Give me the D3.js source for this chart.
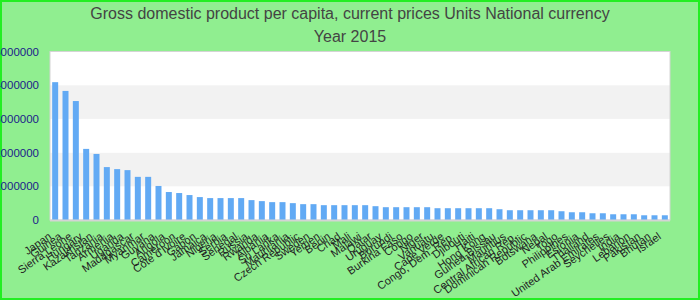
<!DOCTYPE html>
<html>
<head>
<meta charset="utf-8">
<script src="https://cdn.jsdelivr.net/npm/d3@7"></script>
<style>
  html, body { margin: 0; padding: 0; }
  body { width: 700px; height: 300px; overflow: hidden; }
  svg { display: block; font-family: Arial, "Liberation Sans", sans-serif; }
</style>
</head>
<body>
<svg id="chart" width="700" height="300"></svg>
<script>
const titleLines = ["Gross domestic product per capita, current prices Units National currency", "Year 2015"];

const countries = [
  "Japan", "Guinea", "Sierra Leone", "Hungary", "Kazakhstan", "Tanzania", "Armenia", "Uganda",
  "Madagascar", "Myanmar", "Guyana", "Angola", "Cameroon", "Cote d'Ivoire", "Gabon", "Jamaica",
  "Nigeria", "Serbia", "Senegal", "Russia", "Rwanda", "Albania", "Sri Lanka", "Mauritania",
  "Czech Republic", "Sweden", "Yemen", "Benin", "Chad", "Mali", "Malawi", "Qatar",
  "Uruguay", "Burundi", "Burkina Faso", "Congo", "Niger", "Vanuatu", "Cape Verde", "Congo, Dem. Rep.",
  "Djibouti", "Haiti", "Hong Kong", "Guinea-Bissau", "Mauritius", "Central African Rep.", "Dominican Republic", "Botswana",
  "Nepal", "Togo", "Philippines", "Estonia", "Thailand", "United Arab Emirates", "Seychelles", "India",
  "Lebanon", "Pakistan", "Bhutan", "Israel"
];

const gdpValues = [
  4090000, 3830000, 3530000, 2110000, 1960000, 1570000, 1510000, 1480000,
  1280000, 1280000, 1010000, 830000, 800000, 740000, 680000, 650000,
  650000, 650000, 650000, 590000, 560000, 530000, 530000, 500000,
  470000, 470000, 440000, 440000, 440000, 440000, 440000, 410000,
  380000, 380000, 380000, 380000, 380000, 350000, 350000, 350000,
  350000, 350000, 350000, 320000, 290000, 290000, 290000, 290000,
  290000, 260000, 230000, 230000, 200000, 200000, 170000, 170000,
  170000, 140000, 140000, 140000
];

const yTicks = [0, 1000000, 2000000, 3000000, 4000000, 5000000];

const W = 700, H = 300;
const plot = { left: 50, right: 670, top: 51.5, bottom: 220 };

const svg = d3.select("#chart");

// background + border
svg.append("rect").attr("x", 1).attr("y", 1).attr("width", W - 2).attr("height", H - 2)
  .attr("fill", "#90ee90").attr("stroke", "#22ee22").attr("stroke-width", 2);

// title
svg.selectAll("text.title").data(titleLines).join("text")
  .attr("class", "title")
  .attr("x", 350).attr("y", (d, i) => 19 + i * 23)
  .attr("text-anchor", "middle")
  .attr("font-size", 16).attr("fill", "#444")
  .text(d => d);

const x = d3.scaleBand().domain(countries).range([plot.left, plot.right])
  .paddingInner(0.42).paddingOuter(0.21);
const y = d3.scaleLinear().domain([0, 5000000]).range([plot.bottom, plot.top]);

// plot area
svg.append("rect").attr("x", plot.left).attr("y", plot.top)
  .attr("width", plot.right - plot.left).attr("height", plot.bottom - plot.top)
  .attr("fill", "#fff");

// alternating bands
const bandPairs = d3.pairs(yTicks);
svg.append("g").selectAll("rect").data(bandPairs).join("rect")
  .attr("x", plot.left).attr("width", plot.right - plot.left)
  .attr("y", d => y(d[1])).attr("height", d => y(d[0]) - y(d[1]))
  .attr("fill", (d, i) => i % 2 === 1 ? "#f2f2f2" : "#fff");

// frame
svg.append("rect").attr("x", plot.left).attr("y", plot.top)
  .attr("width", plot.right - plot.left).attr("height", plot.bottom - plot.top)
  .attr("fill", "none").attr("stroke", "#d4d4d4").attr("stroke-width", 1);

// bars
svg.append("g").selectAll("rect").data(countries).join("rect")
  .attr("x", d => x(d)).attr("width", x.bandwidth())
  .attr("y", (d, i) => y(gdpValues[i]))
  .attr("height", (d, i) => y(0) - y(gdpValues[i]))
  .attr("fill", "#62aaf4");

// bottom axis line
svg.append("line").attr("x1", plot.left).attr("x2", plot.right)
  .attr("y1", plot.bottom + 0.5).attr("y2", plot.bottom + 0.5)
  .attr("stroke", "#d4d4d4").attr("stroke-width", 2);

// y axis
const yAxis = d3.axisLeft(y).tickValues(yTicks).tickSize(0).tickPadding(11)
  .tickFormat(d3.format("d"));
const gy = svg.append("g").attr("transform", `translate(${plot.left},0)`).call(yAxis);
gy.select(".domain").remove();
gy.selectAll("text").attr("font-size", 11.5).attr("fill", "#1c1c8a")
  .attr("font-family", "Arial, 'Liberation Sans', sans-serif");

// x axis
const xAxis = d3.axisBottom(x).tickSize(0).tickPadding(0);
const gx = svg.append("g").attr("transform", `translate(0,${plot.bottom})`).call(xAxis);
gx.select(".domain").remove();
gx.selectAll(".tick text")
  .attr("font-size", 11).attr("fill", "#222")
  .attr("font-family", "Arial, 'Liberation Sans', sans-serif")
  .attr("text-anchor", "end")
  .attr("dy", 0).attr("y", 0)
  .attr("transform", "translate(-3,18) rotate(-35)");
</script>
</body>
</html>
